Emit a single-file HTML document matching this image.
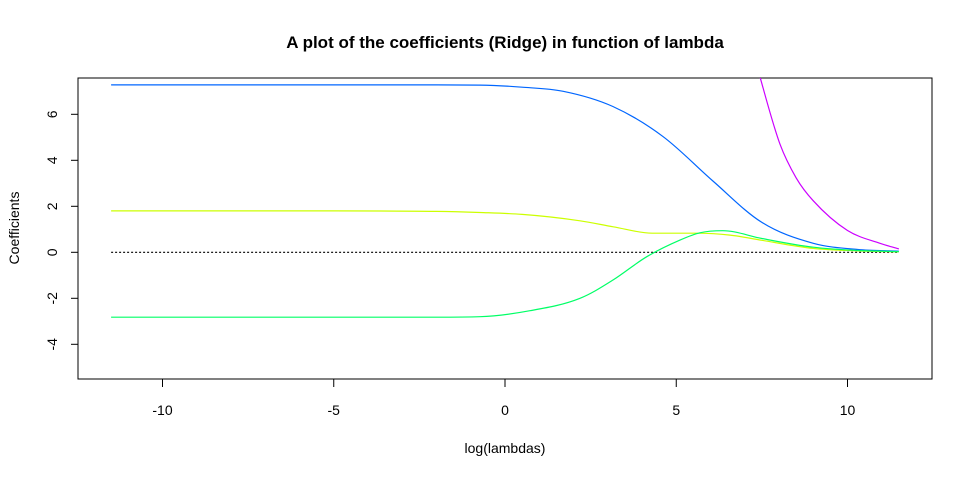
<!DOCTYPE html>
<html><head><meta charset="utf-8"><style>
html,body{margin:0;padding:0;background:#fff;}
svg{display:block;font-family:"Liberation Sans",Arial,sans-serif;}
</style></head><body>
<svg id="chart" width="972" height="477">
<defs><clipPath id="clip"><rect x="78" y="78" width="854" height="301"/></clipPath></defs>
<text x="505" y="48" text-anchor="middle" font-size="17" font-weight="bold">A plot of the coefficients (Ridge) in function of lambda</text>
<rect x="78" y="78" width="854" height="301" fill="none" stroke="#000" stroke-width="1"/>
<g id="xaxis"></g>
<g id="yaxis"></g>
<text x="505" y="453" text-anchor="middle" font-size="14">log(lambdas)</text>
<text transform="translate(19,228) rotate(-90)" text-anchor="middle" font-size="14">Coefficients</text>
<g id="series" clip-path="url(#clip)"></g>
</svg>
<script>
const xTicks = [-10, -5, 0, 5, 10];
const yTicks = [-4, -2, 0, 2, 4, 6];
const blueX = [-11.5, -5, -2, -0.73, 0.5, 1.7, 3.15, 4.6, 6.07, 7.5, 9.0, 10.3, 11.5];
const blueY = [7.28, 7.28, 7.28, 7.27, 7.18, 7.0, 6.34, 5.05, 3.1, 1.3, 0.39, 0.12, 0.05];
const yellowX = [-11.5, -5, -2, -0.73, 0.5, 2.19, 3.16, 4.3, 5.6, 6.57, 7.5, 9.0, 10.3, 11.5];
const yellowY = [1.8, 1.8, 1.78, 1.73, 1.65, 1.37, 1.11, 0.83, 0.83, 0.75, 0.52, 0.17, 0.06, 0.02];
const greenX = [-11.5, -5, -2, -0.73, 0.73, 2.19, 3.16, 4.14, 5.11, 5.69, 6.36, 7.5, 9.0, 10.3, 11.5];
const greenY = [-2.82, -2.82, -2.82, -2.8, -2.54, -2.0, -1.2, -0.19, 0.53, 0.85, 0.94, 0.6, 0.22, 0.08, 0.03];
const purpleX = [7.2, 7.47, 8.03, 8.5, 9.0, 10.0, 10.95, 11.5];
const purpleY = [9.0, 7.5, 4.7, 3.24, 2.24, 0.95, 0.39, 0.15];
const zeroX = [-11.5, 11.5];
const zeroY = [0, 0];

const NS = "http://www.w3.org/2000/svg";
const sx = v => 505 + 34.25 * v;
const sy = v => 252.3 - 23.0 * v;
function mk(tag, attrs, parent){const e=document.createElementNS(NS,tag);for(const k in attrs)e.setAttribute(k,attrs[k]);parent.appendChild(e);return e;}

const xa = document.getElementById('xaxis');
xTicks.forEach(t=>{
  const l = mk('line',{x1:sx(t),x2:sx(t),y1:379,y2:387,stroke:'#000'},xa);
  
  
  const tx = mk('text',{x:sx(t),y:415,'text-anchor':'middle','font-size':14},xa);
  tx.textContent = t;
  
  
});
const ya = document.getElementById('yaxis');
yTicks.forEach(t=>{
  const l = mk('line',{x1:71,x2:78,y1:sy(t),y2:sy(t),stroke:'#000'},ya);
  
  
  const tx = mk('text',{transform:`translate(57,${sy(t)}) rotate(-90)`,'text-anchor':'middle','font-size':14},ya);
  tx.textContent = t;
  
  
});

function monoPath(xs, ys){
  const X = xs.map(sx), Y = ys.map(sy), n = X.length;
  if(n<3){return 'M'+X.map((x,i)=>x.toFixed(1)+','+Y[i].toFixed(1)).join(' L');}
  const d=[], m=new Array(n);
  for(let i=0;i<n-1;i++) d.push((Y[i+1]-Y[i])/(X[i+1]-X[i]));
  m[0]=d[0]; m[n-1]=d[n-2];
  for(let i=1;i<n-1;i++){ m[i] = d[i-1]*d[i]<=0 ? 0 : (d[i-1]+d[i])/2; }
  for(let i=0;i<n-1;i++){
    if(d[i]===0){m[i]=0;m[i+1]=0;continue;}
    const a=m[i]/d[i], b=m[i+1]/d[i], s=a*a+b*b;
    if(s>9){const t=3/Math.sqrt(s);m[i]=t*a*d[i];m[i+1]=t*b*d[i];}
  }
  let p='M'+X[0].toFixed(1)+','+Y[0].toFixed(1);
  for(let i=0;i<n-1;i++){
    const h=(X[i+1]-X[i])/3;
    p+=` C${(X[i]+h).toFixed(1)},${(Y[i]+m[i]*h).toFixed(1)} ${(X[i+1]-h).toFixed(1)},${(Y[i+1]-m[i+1]*h).toFixed(1)} ${X[i+1].toFixed(1)},${Y[i+1].toFixed(1)}`;
  }
  return p;
}

const sg = document.getElementById('series');
function line(xs, ys, color, name, dash){
  const p = mk('path',{d:monoPath(xs,ys),fill:'none',stroke:color,'stroke-width':1.2},sg);
  if(dash) p.setAttribute('stroke-dasharray',dash);
  
  
}
line(zeroX, zeroY, '#000', 'zero-line', '2,2');
line(blueX, blueY, '#0066ff', 'series-blue');
line(yellowX, yellowY, '#ccff00', 'series-yellow');
line(greenX, greenY, '#00ff66', 'series-green');
line(purpleX, purpleY, '#cc00ff', 'series-purple');
</script>
</body></html>
